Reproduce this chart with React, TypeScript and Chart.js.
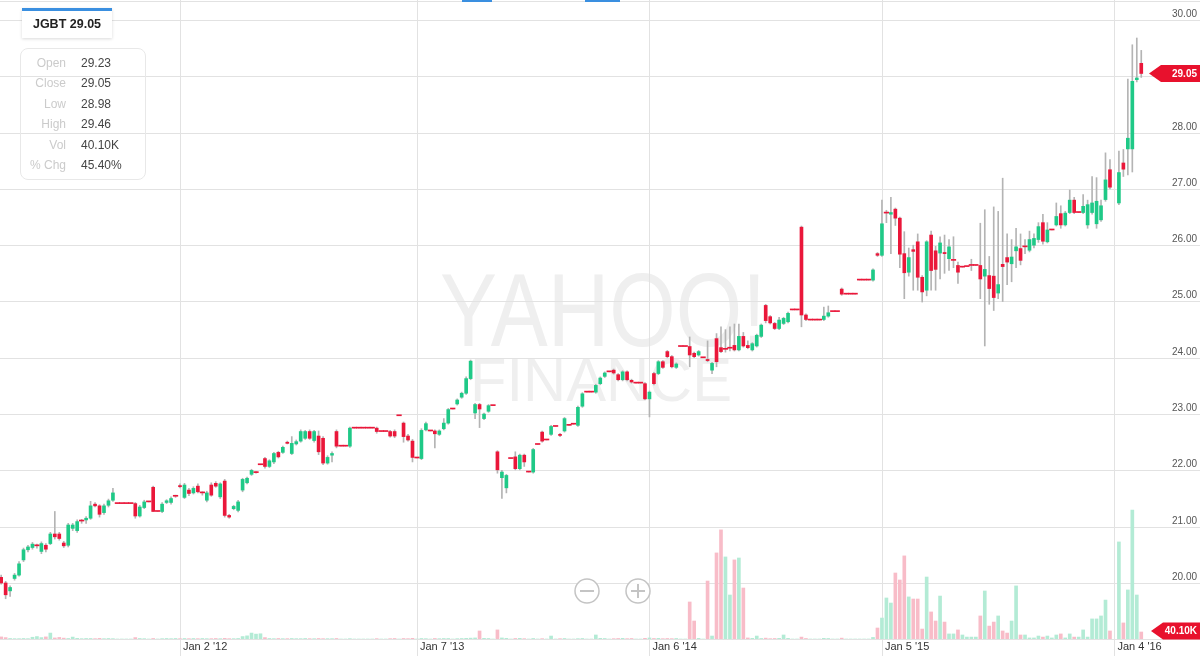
import React, { useEffect, useRef } from 'react';
import { Chart, registerables } from 'chart.js';

Chart.register(...registerables);

// Weekly candles, index 0 .. 255 (index 40 = week of Jan 2 '12)
const openP: (number | null)[] = [
  20.10, 20.00, 19.86, 20.08, 20.14, 20.41, 20.59, 20.63, 20.66, 20.56,
  20.67, 20.70, 20.87, 20.87, 20.71, 20.67, 20.97, 20.93, 21.10, 21.12,
  21.15, 21.40, 21.37, 21.25, 21.38, 21.47, 21.41, 21.41, 21.41, 21.41,
  21.41, 21.19, 21.34, 21.44, 21.70, 21.27, 21.27, 21.43, 21.43, 21.54,
  21.73, 21.52, 21.65, 21.60, 21.72, 21.60, 21.47, 21.74, 21.77, 21.53,
  21.81, 21.20, 21.32, 21.29, 21.65, 21.78, 21.93, 21.96, 22.10, 22.21,
  22.07, 22.15, 22.32, 22.32, 22.50, 22.30, 22.47, 22.52, 22.57, 22.69,
  22.53, 22.61, 22.57, 22.13, 22.27, 22.69, 22.43, 22.43, 22.43, 22.75,
  22.75, 22.75, 22.75, 22.75, 22.75, 22.69, 22.69, 22.69, 22.69, 22.97,
  22.84, 22.61, 22.52, 22.22, 22.21, 22.72, 22.70, 22.70, 22.64, 22.74,
  22.84, 23.09, 23.18, 23.30, 23.37, 23.63, 23.02, 23.17, 22.92, 23.05,
  23.15, 22.33, 21.87, 21.69, 22.21, 22.24, 22.03, 22.27, 21.97, 21.97,
  22.46, 22.68, 22.54, 22.64, 22.78, 22.64, 22.70, 22.80, 22.82, 22.80,
  23.14, 23.39, 23.39, 23.39, 23.54, 23.67, 23.75, 23.78, 23.70, 23.61,
  23.75, 23.60, 23.55, 23.55, 23.54, 23.27, 23.72, 23.72, 23.93, 24.11,
  24.02, 23.83, 24.20, 24.20, 24.20, 24.08, 24.05, 24.00, 23.97, 23.78,
  24.34, 24.18, 24.15, 24.17, 24.22, 24.14, 24.38, 24.22, 24.14, 24.21,
  24.38, 24.93, 24.73, 24.61, 24.52, 24.61, 24.64, 24.85, 24.85, 26.32,
  24.76, 24.67, 24.67, 24.67, 24.68, 24.74, 24.82, 24.82, 25.22, 25.13,
  25.13, 25.13, 25.38, 25.38, 25.38, 25.38, 25.85, 25.82, 26.57, 26.55,
  26.64, 26.48, 25.85, 25.52, 25.92, 26.06, 25.43, 25.20, 26.18, 25.90,
  25.86, 25.87, 25.76, 25.73, 25.64, 25.61, 25.62, 25.64, 25.64, 25.64,
  25.45, 25.46, 25.45, 25.15, 25.66, 25.78, 25.67, 25.90, 25.94, 25.97,
  25.91, 26.00, 26.10, 26.40, 26.06, 26.27, 26.36, 26.56, 26.36, 26.58,
  26.80, 26.58, 26.58, 26.36, 26.58, 26.38, 26.45, 26.81, 27.34, null,
  26.75, 27.46, 27.71, 27.71, 28.94, 29.23,
];

const highP: (number | null)[] = [
  20.14, 20.03, 19.95, 20.17, 20.38, 20.62, 20.67, 20.72, 20.69, 20.73,
  20.70, 20.90, 21.27, 20.90, 20.74, 21.06, 21.06, 21.12, 21.13, 21.18,
  21.45, 21.43, 21.39, 21.40, 21.49, 21.68, 21.41, 21.41, 21.41, 21.41,
  21.43, 21.38, 21.47, 21.44, 21.72, 21.27, 21.43, 21.48, 21.53, 21.56,
  21.76, 21.77, 21.68, 21.71, 21.76, 21.62, 21.63, 21.78, 21.80, 21.78,
  21.84, 21.22, 21.38, 21.47, 21.86, 21.88, 22.02, 21.98, 22.10, 22.23,
  22.19, 22.32, 22.34, 22.43, 22.52, 22.60, 22.54, 22.72, 22.71, 22.72,
  22.71, 22.70, 22.60, 22.26, 22.33, 22.72, 22.43, 22.43, 22.77, 22.75,
  22.75, 22.75, 22.75, 22.75, 22.77, 22.69, 22.69, 22.71, 22.72, 22.97,
  22.86, 22.64, 22.55, 22.22, 22.74, 22.86, 22.70, 22.72, 22.72, 22.92,
  23.10, 23.09, 23.27, 23.39, 23.66, 23.96, 23.19, 23.19, 23.02, 23.17,
  23.15, 22.35, 22.00, 21.93, 22.21, 22.33, 22.29, 22.29, 21.97, 22.39,
  22.46, 22.70, 22.54, 22.80, 22.78, 22.66, 22.94, 22.80, 22.82, 23.14,
  23.38, 23.39, 23.39, 23.53, 23.66, 23.75, 23.75, 23.80, 23.72, 23.77,
  23.77, 23.62, 23.55, 23.55, 23.56, 23.41, 23.74, 23.95, 23.95, 24.13,
  24.04, 23.91, 24.20, 24.20, 24.37, 24.10, 24.13, 24.00, 24.30, 23.92,
  24.43, 24.55, 24.50, 24.55, 24.60, 24.60, 24.45, 24.30, 24.27, 24.42,
  24.60, 24.95, 24.75, 24.63, 24.72, 24.72, 24.81, 24.85, 24.85, 26.34,
  24.78, 24.67, 24.67, 24.67, 24.90, 24.92, 24.82, 24.82, 25.24, 25.13,
  25.13, 25.13, 25.38, 25.38, 25.38, 25.58, 25.87, 26.80, 26.62, 26.85,
  26.66, 26.50, 26.24, 25.95, 26.00, 26.20, 25.46, 26.08, 26.25, 25.98,
  26.15, 26.18, 26.10, 26.15, 25.70, 25.61, 25.62, 25.75, 25.64, 26.39,
  26.63, 25.80, 26.68, 26.60, 27.19, 26.20, 26.10, 26.30, 26.20, 26.10,
  26.25, 26.20, 26.40, 26.55, 26.40, 26.27, 26.75, 26.70, 26.60, 26.98,
  26.85, 26.58, 26.90, 26.80, 27.22, 27.20, 26.80, 27.64, 27.52, null,
  27.67, 27.70, 28.95, 29.56, 29.68, 29.46,
];

const lowP: (number | null)[] = [
  19.98, 19.72, 19.76, 20.05, 20.12, 20.38, 20.55, 20.60, 20.62, 20.52,
  20.55, 20.68, 20.78, 20.76, 20.63, 20.64, 20.93, 20.90, 21.06, 21.06,
  21.13, 21.35, 21.17, 21.22, 21.35, 21.45, 21.41, 21.41, 21.41, 21.41,
  21.15, 21.17, 21.32, 21.44, 21.27, 21.27, 21.25, 21.41, 21.40, 21.52,
  21.69, 21.50, 21.55, 21.58, 21.60, 21.56, 21.44, 21.54, 21.70, 21.50,
  21.17, 21.15, 21.30, 21.26, 21.62, 21.76, 21.91, 21.95, 22.10, 22.04,
  22.05, 22.12, 22.22, 22.30, 22.47, 22.28, 22.45, 22.50, 22.55, 22.55,
  22.50, 22.28, 22.10, 22.11, 22.15, 22.40, 22.43, 22.43, 22.41, 22.75,
  22.75, 22.75, 22.75, 22.75, 22.66, 22.69, 22.69, 22.59, 22.58, 22.97,
  22.50, 22.52, 22.15, 22.22, 22.19, 22.70, 22.70, 22.40, 22.62, 22.72,
  22.82, 23.09, 23.16, 23.28, 23.35, 23.61, 22.92, 22.76, 22.90, 23.03,
  23.15, 21.95, 21.50, 21.60, 22.21, 22.01, 22.01, 22.07, 21.97, 21.95,
  22.46, 22.50, 22.54, 22.62, 22.78, 22.60, 22.68, 22.80, 22.82, 22.78,
  23.12, 23.39, 23.39, 23.37, 23.52, 23.65, 23.75, 23.71, 23.59, 23.59,
  23.59, 23.55, 23.55, 23.55, 23.25, 22.95, 23.52, 23.70, 23.81, 24.00,
  23.82, 23.81, 24.20, 24.20, 23.84, 24.00, 24.03, 24.00, 23.93, 23.72,
  23.84, 24.09, 24.10, 24.12, 24.12, 24.12, 24.19, 24.16, 24.12, 24.19,
  24.36, 24.62, 24.60, 24.50, 24.50, 24.59, 24.62, 24.85, 24.85, 24.55,
  24.66, 24.67, 24.67, 24.67, 24.66, 24.72, 24.82, 24.82, 25.11, 25.13,
  25.13, 25.13, 25.38, 25.38, 25.38, 25.36, 25.80, 25.80, 26.40, 25.85,
  26.35, 25.60, 25.05, 25.45, 25.20, 25.20, 24.99, 25.10, 25.20, 25.20,
  25.40, 25.50, 25.55, 25.60, 25.32, 25.61, 25.62, 25.55, 25.64, 25.05,
  24.21, 24.95, 24.84, 25.05, 25.00, 25.30, 25.35, 25.60, 25.65, 25.85,
  25.88, 25.95, 26.05, 26.02, 26.04, 26.27, 26.34, 26.30, 26.34, 26.56,
  26.56, 26.58, 26.56, 26.30, 26.55, 26.30, 26.42, 26.78, 27.00, null,
  26.72, 27.22, 27.25, 27.30, 28.90, 28.98,
];

const closeP: (number | null)[] = [
  20.00, 19.79, 19.92, 20.14, 20.34, 20.59, 20.64, 20.69, 20.66, 20.70,
  20.60, 20.87, 20.82, 20.79, 20.66, 21.03, 21.03, 21.09, 21.10, 21.15,
  21.37, 21.37, 21.22, 21.37, 21.46, 21.60, 21.41, 21.41, 21.41, 21.41,
  21.19, 21.35, 21.44, 21.44, 21.27, 21.27, 21.40, 21.46, 21.50, 21.54,
  21.71, 21.74, 21.59, 21.68, 21.62, 21.60, 21.60, 21.56, 21.72, 21.76,
  21.20, 21.17, 21.36, 21.44, 21.84, 21.86, 22.00, 21.96, 22.10, 22.07,
  22.17, 22.30, 22.24, 22.41, 22.48, 22.48, 22.51, 22.69, 22.69, 22.57,
  22.69, 22.33, 22.13, 22.23, 22.30, 22.43, 22.43, 22.43, 22.75, 22.75,
  22.75, 22.75, 22.75, 22.75, 22.69, 22.69, 22.69, 22.61, 22.61, 22.97,
  22.60, 22.54, 22.23, 22.22, 22.71, 22.83, 22.70, 22.65, 22.70, 22.84,
  23.08, 23.09, 23.25, 23.37, 23.63, 23.94, 23.17, 23.09, 23.00, 23.15,
  23.15, 22.01, 21.97, 21.91, 22.21, 22.03, 22.27, 22.15, 21.97, 22.37,
  22.46, 22.52, 22.54, 22.78, 22.78, 22.62, 22.92, 22.80, 22.82, 23.12,
  23.36, 23.39, 23.39, 23.51, 23.64, 23.73, 23.75, 23.73, 23.61, 23.75,
  23.61, 23.57, 23.55, 23.55, 23.27, 23.39, 23.54, 23.93, 23.83, 24.02,
  23.84, 23.89, 24.20, 24.20, 24.05, 24.02, 24.11, 24.00, 23.95, 23.90,
  23.93, 24.11, 24.15, 24.17, 24.14, 24.38, 24.21, 24.18, 24.25, 24.40,
  24.58, 24.66, 24.62, 24.52, 24.67, 24.70, 24.79, 24.85, 24.85, 24.76,
  24.68, 24.67, 24.67, 24.67, 24.74, 24.80, 24.82, 24.82, 25.13, 25.13,
  25.13, 25.13, 25.38, 25.38, 25.38, 25.56, 25.82, 26.38, 26.57, 26.58,
  26.48, 25.84, 25.51, 25.78, 25.89, 25.43, 25.17, 26.06, 25.55, 25.57,
  26.04, 25.85, 25.97, 25.73, 25.52, 25.61, 25.62, 25.64, 25.64, 25.40,
  25.57, 25.23, 25.07, 25.30, 25.62, 25.70, 25.79, 25.97, 25.73, 25.97,
  26.10, 26.12, 26.33, 26.07, 26.27, 26.27, 26.51, 26.36, 26.57, 26.80,
  26.58, 26.58, 26.69, 26.72, 26.75, 26.78, 26.70, 27.16, 27.03, null,
  27.29, 27.35, 27.90, 28.91, 28.97, 29.05,
];

// Weekly volume, thousands of shares
const volumeK: (number | null)[] = [
  12, 8, 3, 2, 2, 3, 2, 10, 14, 8,
  12, 34, 6, 9, 5, 3, 11, 4, 2, 3,
  3, 2, 4, 2, 3, 2, 0, 0, 0, 0,
  8, 3, 2, 0, 3, 0, 2, 3, 2, 3,
  2, 3, 2, 3, 2, 3, 2, 2, 3, 2,
  4, 2, 2, 3, 14, 18, 34, 28, 30, 8,
  3, 2, 3, 2, 2, 3, 2, 2, 3, 2,
  2, 3, 2, 2, 2, 3, 0, 0, 2, 0,
  0, 0, 0, 0, 2, 0, 0, 2, 3, 0,
  3, 2, 4, 0, 3, 2, 0, 3, 2, 3,
  3, 0, 2, 3, 4, 5, 6, 46, 4, 3,
  0, 52, 6, 4, 0, 3, 4, 2, 0, 3,
  0, 2, 0, 17, 0, 2, 3, 0, 0, 2,
  3, 0, 0, 23, 4, 3, 0, 2, 3, 4,
  2, 3, 0, 0, 4, 6, 3, 4, 2, 3,
  2, 3, 0, 0, 212, 103, 4, 0, 332, 17,
  493, 625, 470, 252, 453, 464, 292, 6, 4, 17,
  3, 5, 2, 3, 4, 23, 4, 0, 0, 11,
  3, 0, 0, 0, 4, 3, 0, 0, 5, 0,
  0, 0, 0, 0, 0, 9, 63, 120, 235, 206,
  378, 338, 476, 241, 229, 229, 57, 355, 155, 103,
  246, 97, 29, 29, 52, 23, 11, 11, 11, 132,
  275, 74, 97, 132, 46, 34, 103, 304, 23, 23,
  6, 6, 17, 11, 17, 6, 23, 29, 6, 29,
  11, 11, 52, 11, 115, 115, 132, 223, 46, null,
  556, 92, 281, 739, 252, 40.1,
];

const tickWeeks = [40, 93, 145, 197, 249];
const tickLabels = ["Jan 2 '12", "Jan 7 '13", "Jan 6 '14", "Jan 5 '15", "Jan 4 '16"];
const priceTicks = [20, 21, 22, 23, 24, 25, 26, 27, 28, 29, 30];

const symbol = 'JGBT';
const lastPrice = 29.05;
const lastVolumeK = 40.1;
const infoLabels = ['Open', 'Close', 'Low', 'High', 'Vol', '% Chg'];
const infoValues = ['29.23', '29.05', '28.98', '29.46', '40.10K', '45.40%'];

const UP = '#1fc987';
const DOWN = '#ea173a';
const UP_VOL = '#b3ebd5';
const DOWN_VOL = '#f8bcc8';
const WICK = '#b4b4b4';
const GRID = '#e2e2e2';
const FONT = '"Liberation Sans", Arial, sans-serif';

const PX_PER_WEEK = 4.471;
const X_MIN = 40 - 180 / PX_PER_WEEK;
const X_MAX = X_MIN + 1147 / PX_PER_WEEK;

function marker(ctx: CanvasRenderingContext2D, yc: number, text: string, tipX: number) {
  ctx.fillStyle = '#e8112d';
  ctx.beginPath();
  ctx.moveTo(tipX, yc);
  ctx.lineTo(tipX + 12, yc - 8.5);
  ctx.lineTo(1200, yc - 8.5);
  ctx.lineTo(1200, yc + 8.5);
  ctx.lineTo(tipX + 12, yc + 8.5);
  ctx.closePath();
  ctx.fill();
  ctx.fillStyle = '#ffffff';
  ctx.font = 'bold 10px ' + FONT;
  ctx.textAlign = 'right';
  ctx.textBaseline = 'middle';
  ctx.fillText(text, 1197, yc + 0.5);
}

const overlayPlugin = {
  id: 'overlayPlugin',
  beforeDatasetsDraw(chart: any) {
    const ctx: CanvasRenderingContext2D = chart.ctx;
    const xs = chart.scales.x;
    const ys = chart.scales.y;
    ctx.save();
    // watermark
    ctx.fillStyle = '#efefef';
    ctx.textAlign = 'left';
    ctx.textBaseline = 'alphabetic';
    ctx.font = '104px ' + FONT;
    ctx.fillText('YAHOO!', 440, 346, 326);
    ctx.font = '62px ' + FONT;
    ctx.fillText('FINANCE', 470, 401, 262);
    // grid lines
    ctx.strokeStyle = GRID;
    ctx.lineWidth = 1;
    ctx.beginPath();
    priceTicks.forEach((v) => {
      const py = Math.round(ys.getPixelForValue(v)) + 0.5;
      ctx.moveTo(0, py);
      ctx.lineTo(1200, py);
    });
    tickWeeks.forEach((w) => {
      const px = Math.round(xs.getPixelForValue(w)) + 0.5;
      ctx.moveTo(px, 0);
      ctx.lineTo(px, 656);
    });
    ctx.moveTo(0, 1.5);
    ctx.lineTo(1200, 1.5);
    ctx.moveTo(0, 639.5);
    ctx.lineTo(1200, 639.5);
    ctx.stroke();
    ctx.restore();
  },
  afterDatasetsDraw(chart: any) {
    const ctx: CanvasRenderingContext2D = chart.ctx;
    const xs = chart.scales.x;
    const ys = chart.scales.y;
    const yv = chart.scales.yv;
    ctx.save();
    // y labels
    ctx.fillStyle = '#555555';
    ctx.font = '10px ' + FONT;
    ctx.textAlign = 'right';
    ctx.textBaseline = 'alphabetic';
    priceTicks.forEach((v) => {
      const py = ys.getPixelForValue(v);
      ctx.fillText(v.toFixed(2), 1197, py - 3);
    });
    // x labels
    ctx.fillStyle = '#333333';
    ctx.font = '11px ' + FONT;
    ctx.textAlign = 'left';
    tickWeeks.forEach((w, k) => {
      const px = xs.getPixelForValue(w);
      ctx.fillText(tickLabels[k], px + 3, 650);
    });
    // last price / volume markers
    marker(ctx, ys.getPixelForValue(lastPrice), lastPrice.toFixed(2), 1149);
    marker(ctx, Math.min(yv.getPixelForValue(lastVolumeK), 631), lastVolumeK.toFixed(2) + 'K', 1151);
    // zoom buttons
    [587, 638].forEach((cx, k) => {
      ctx.beginPath();
      ctx.arc(cx, 591, 12, 0, Math.PI * 2);
      ctx.fillStyle = 'rgba(255,255,255,0.85)';
      ctx.fill();
      ctx.strokeStyle = '#c4c4c4';
      ctx.lineWidth = 1.5;
      ctx.stroke();
      ctx.beginPath();
      ctx.lineWidth = 2;
      ctx.moveTo(cx - 7, 591);
      ctx.lineTo(cx + 7, 591);
      if (k === 1) {
        ctx.moveTo(cx, 584);
        ctx.lineTo(cx, 598);
      }
      ctx.stroke();
    });
    // small blue range marks at top
    ctx.fillStyle = '#3a8fe0';
    ctx.fillRect(462, 0, 30, 2);
    ctx.fillRect(585, 0, 35, 2);
    ctx.restore();
  },
};

export default function App() {
  const canvasRef = useRef<HTMLCanvasElement | null>(null);

  useEffect(() => {
    const idx: number[] = [];
    for (let i = 0; i < openP.length; i++) if (openP[i] != null) idx.push(i);
    const isFlat = (i: number) => openP[i] === closeP[i];
    const bodyIdx = idx.filter((i) => !isFlat(i));
    const flatIdx = idx.filter((i) => isFlat(i));
    const bodyData = bodyIdx.map((i) => ({ x: i, y: [openP[i] as number, closeP[i] as number] }));
    const flatData = flatIdx.map((i) => ({ x: i, y: [openP[i] as number, closeP[i] as number] }));
    const wickData = idx.map((i) => ({ x: i, y: [lowP[i] as number, highP[i] as number] }));
    const volData = idx.map((i) => ({ x: i, y: volumeK[i] as number }));
    const up = (k: number) => {
      const i = bodyIdx[k];
      return (closeP[i] as number) > (openP[i] as number);
    };
    const volUp = (k: number) => {
      const i = idx[k];
      return (closeP[i] as number) >= (openP[i] as number);
    };

    const chart = new Chart(canvasRef.current as HTMLCanvasElement, {
      type: 'bar',
      data: {
        datasets: [
          {
            label: 'body',
            data: bodyData as any,
            yAxisID: 'y',
            barThickness: 3,
            minBarLength: 1,
            grouped: false,
            order: 1,
            backgroundColor: (c: any) => (up(c.dataIndex) ? UP : DOWN),
          },
          {
            label: 'flat',
            data: flatData as any,
            yAxisID: 'y',
            barThickness: 4.6,
            minBarLength: 1,
            grouped: false,
            order: 1,
            backgroundColor: DOWN,
          },
          {
            label: 'wick',
            data: wickData as any,
            yAxisID: 'y',
            barThickness: 1,
            grouped: false,
            order: 2,
            backgroundColor: WICK,
          },
          {
            label: 'volume',
            data: volData as any,
            yAxisID: 'yv',
            barThickness: 3,
            grouped: false,
            order: 3,
            backgroundColor: (c: any) => (volUp(c.dataIndex) ? UP_VOL : DOWN_VOL),
          },
        ],
      },
      options: {
        animation: false,
        responsive: false,
        events: [],
        layout: { padding: { left: 0, right: 53, top: 0, bottom: 17 } },
        plugins: { legend: { display: false }, tooltip: { enabled: false } },
        scales: {
          x: { type: 'linear', offset: false, min: X_MIN, max: X_MAX, display: false },
          y: { type: 'linear', min: 19.005, max: 30.355, display: false },
          yv: { type: 'linear', min: 0, max: 3660, display: false },
        },
      } as any,
      plugins: [overlayPlugin],
    });
    return () => chart.destroy();
  }, []);

  return (
    <div style={{ position: 'fixed', left: 0, top: 0, width: 1200, height: 656, background: '#ffffff', overflow: 'hidden' }}>
      <canvas ref={canvasRef} width={1200} height={656} style={{ position: 'absolute', left: 0, top: 0, width: 1200, height: 656 }} />
      <div
        style={{
          position: 'absolute', left: 22, top: 8, width: 90, height: 27,
          borderTop: '3px solid #3a8fe0', background: '#ffffff',
          boxShadow: '0 1px 3px rgba(0,0,0,0.15)', fontFamily: FONT,
          fontWeight: 'bold', fontSize: 12.5, color: '#222', textAlign: 'center', lineHeight: '27px',
        }}
      >
        {symbol} {lastPrice.toFixed(2)}
      </div>
      <div
        style={{
          position: 'absolute', left: 20, top: 48, width: 124, height: 130,
          border: '1px solid #e8e8e8', borderRadius: 8, fontFamily: FONT, fontSize: 12,
        }}
      >
        {infoLabels.map((lab, k) => (
          <div key={lab} style={{ position: 'absolute', left: 0, top: 4 + k * 20.4, height: 20, lineHeight: '20px', width: 124 }}>
            <span style={{ position: 'absolute', right: 79, color: '#cbcbcb', whiteSpace: 'nowrap' }}>{lab}</span>
            <span style={{ position: 'absolute', left: 60, color: '#444', whiteSpace: 'nowrap' }}>{infoValues[k]}</span>
          </div>
        ))}
      </div>
    </div>
  );
}
